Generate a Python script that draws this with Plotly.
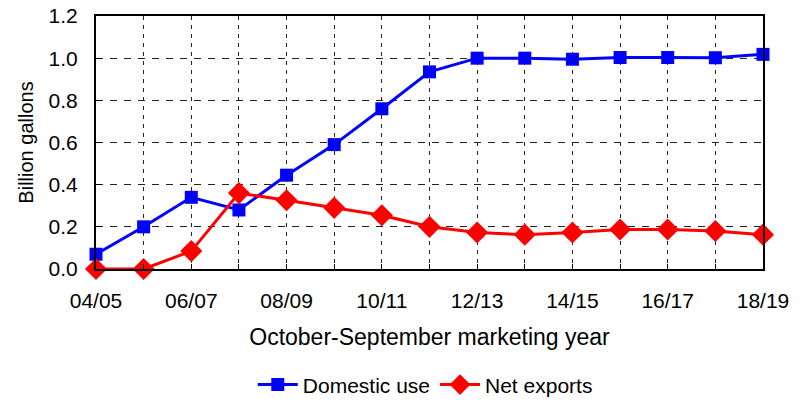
import plotly.graph_objects as go

years = ["04/05", "05/06", "06/07", "07/08", "08/09", "09/10", "10/11", "11/12",
         "12/13", "13/14", "14/15", "15/16", "16/17", "17/18", "18/19"]
domestic_use = [0.07, 0.20, 0.34, 0.28, 0.445, 0.59, 0.76, 0.935,
                1.00, 1.00, 0.995, 1.003, 1.003, 1.002, 1.018]
net_exports = [0.0, 0.0, 0.085, 0.36, 0.326, 0.29, 0.255, 0.20,
               0.173, 0.163, 0.173, 0.187, 0.187, 0.18, 0.163]
tick_labels = [y if i % 2 == 0 else "" for i, y in enumerate(years)]
y_ticks = [0.0, 0.2, 0.4, 0.6, 0.8, 1.0, 1.2]

FONT = "Liberation Sans, Arial, sans-serif"

fig = go.Figure()
fig.add_trace(go.Scatter(
    x=years, y=domestic_use, name="Domestic use", mode="lines+markers",
    line=dict(color="#0000ff", width=3),
    marker=dict(symbol="square", size=13, color="#0000ff"),
    cliponaxis=False,
))
fig.add_trace(go.Scatter(
    x=years, y=net_exports, name="Net exports", mode="lines+markers",
    line=dict(color="#ff0000", width=3),
    marker=dict(symbol="diamond", size=17, color="#ff0000"),
    cliponaxis=False,
))

fig.update_layout(
    width=807, height=401,
    margin=dict(l=96, r=44, t=16, b=132, autoexpand=False),
    paper_bgcolor="white", plot_bgcolor="white",
    font=dict(family=FONT, size=21, color="black"),
    showlegend=True,
    hovermode=False,
    legend=dict(orientation="h", x=0.527, xanchor="center", xref="container",
                y=0.04, yanchor="middle", yref="container",
                font=dict(size=21), tracegroupgap=0, itemwidth=40),
)
fig.update_xaxes(
    type="category", range=[0, 14], automargin=False,
    tickmode="array", tickvals=years, ticktext=tick_labels,
    showgrid=True, gridcolor="#222222", griddash="4px,5px", gridwidth=1,
    showline=True, linecolor="black", linewidth=2, mirror=True,
    ticks="inside", ticklen=5, tickcolor="black",
    ticklabelstandoff=12, ticklabeloverflow="allow",
    title=dict(text="October-September marketing year", font=dict(size=23), standoff=18),
    zeroline=False,
)
fig.update_yaxes(
    range=[0, 1.2], tickvals=y_ticks, tickformat=".1f", automargin=False,
    showgrid=True, gridcolor="#222222", griddash="7px,7px", gridwidth=1,
    showline=True, linecolor="black", linewidth=2, mirror=True,
    ticks="inside", ticklen=5, tickcolor="black",
    ticklabelstandoff=12, ticklabeloverflow="allow",
    title=dict(text="Billion gallons", font=dict(size=20), standoff=10),
    zeroline=False,
)

# remove the default 8px page margin so the figure sits at the window's corner
fig.write_html("out.html", config={"displayModeBar": False},
               post_script="document.body.style.margin='0';")
